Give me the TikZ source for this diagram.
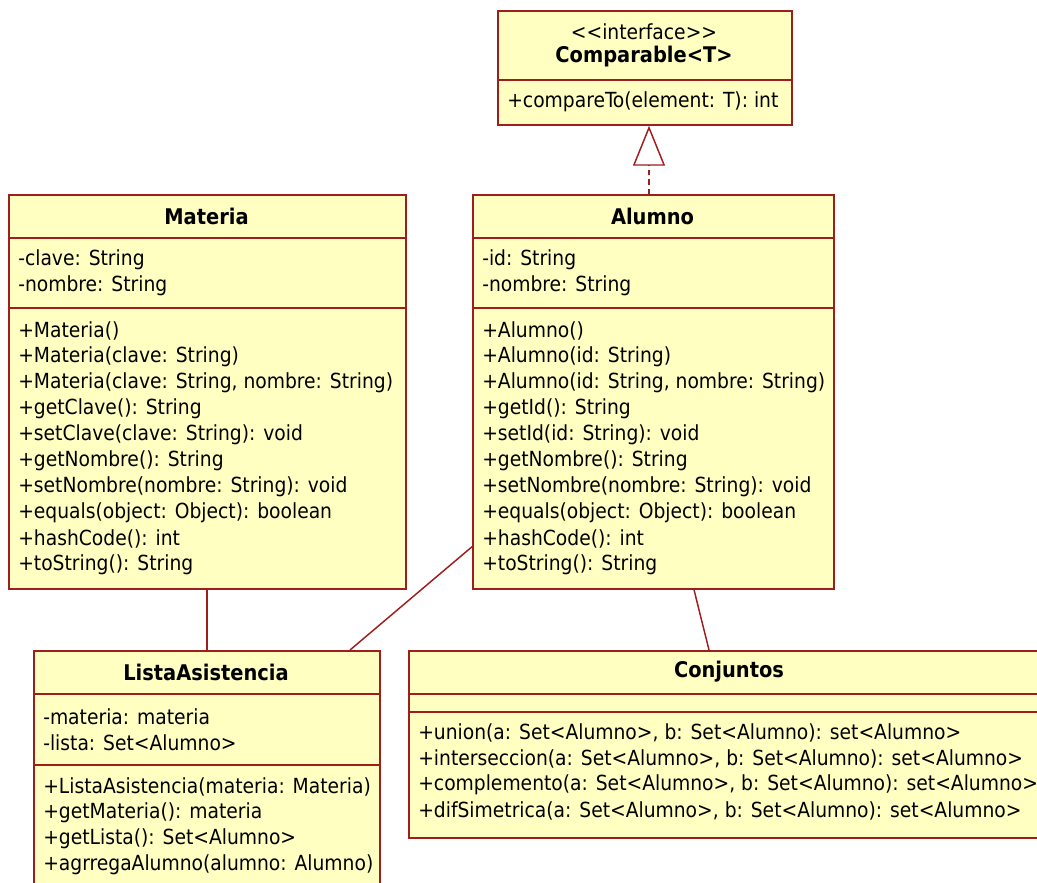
\documentclass[tikz,border=0pt]{standalone}
\usepackage{fontspec}
\setmainfont{DejaVu Sans Condensed}
\usetikzlibrary{arrows.meta,calc}

\definecolor{umlfill}{RGB}{255,255,194}
\definecolor{umlline}{RGB}{158,30,30}

\tikzset{
  classbox/.style={draw=umlline, fill=umlfill, line width=1.3pt, rectangle,
    inner sep=0pt, anchor=north west},
  divider/.style={draw=umlline, line width=1.3pt},
  classname/.style={font=\bfseries\fontsize{16.2}{18}\selectfont, anchor=center, inner sep=0pt},
  stereo/.style={font=\fontsize{15.6}{18}\selectfont, anchor=center, inner sep=0pt},
  member/.style={font=\fontsize{15.6}{18}\selectfont, anchor=west, inner sep=0pt},
  link/.style={draw=umlline, line width=1.1pt},
  realize/.style={draw=umlline, line width=1.1pt, dash pattern=on 4pt off 3pt,
    -{Triangle[open, length=30pt, width=24pt, fill=white, line width=1.1pt]}},
}

\begin{document}
\begin{tikzpicture}[x=0.75pt, y=-0.75pt]
\useasboundingbox (0,0) rectangle (1037,882);
\clip (0,0) rectangle (1037,882);

% ---- Comparable<T> interface
\node[classbox, minimum width=294*0.75pt, minimum height=114*0.75pt] (comp) at (497,10) {};
\draw[divider] ($(comp.north west)+(0,70)$) -- ($(comp.north east)+(0,70)$);
\node[stereo] (compst) at (644,32) {<{}<interface>{}>};
\node[classname] (compname) at (644,57) {Comparable<T>};
\node[member] (compm1) at (507,102) {+compareTo(element: T): int};

% ---- Materia
\node[classbox, minimum width=397*0.75pt, minimum height=394*0.75pt] (mat) at (8,194) {};
\draw[divider] ($(mat.north west)+(0,44)$) -- ($(mat.north east)+(0,44)$);
\draw[divider] ($(mat.north west)+(0,114)$) -- ($(mat.north east)+(0,114)$);
\node[classname] (matname) at (206.5,216) {Materia};
\node[member] (mata1) at (18,260) {-clave: String};
\node[member] (mata2) at (18,286) {-nombre: String};
\node[member] (matm1)  at (18,331) {+Materia()};
\node[member] (matm2)  at (18,357) {+Materia(clave: String)};
\node[member] (matm3)  at (18,383) {+Materia(clave: String, nombre: String)};
\node[member] (matm4)  at (18,409) {+getClave(): String};
\node[member] (matm5)  at (18,435) {+setClave(clave: String): void};
\node[member] (matm6)  at (18,461) {+getNombre(): String};
\node[member] (matm7)  at (18,487) {+setNombre(nombre: String): void};
\node[member] (matm8)  at (18,513) {+equals(object: Object): boolean};
\node[member] (matm9)  at (18,539) {+hashCode(): int};
\node[member] (matm10) at (18,565) {+toString(): String};

% ---- Alumno
\node[classbox, minimum width=361*0.75pt, minimum height=394*0.75pt] (alu) at (472,194) {};
\draw[divider] ($(alu.north west)+(0,44)$) -- ($(alu.north east)+(0,44)$);
\draw[divider] ($(alu.north west)+(0,114)$) -- ($(alu.north east)+(0,114)$);
\node[classname] (aluname) at (652.5,216) {Alumno};
\node[member] (alua1) at (482,260) {-id: String};
\node[member] (alua2) at (482,286) {-nombre: String};
\node[member] (alum1)  at (482,331) {+Alumno()};
\node[member] (alum2)  at (482,357) {+Alumno(id: String)};
\node[member] (alum3)  at (482,383) {+Alumno(id: String, nombre: String)};
\node[member] (alum4)  at (482,409) {+getId(): String};
\node[member] (alum5)  at (482,435) {+setId(id: String): void};
\node[member] (alum6)  at (482,461) {+getNombre(): String};
\node[member] (alum7)  at (482,487) {+setNombre(nombre: String): void};
\node[member] (alum8)  at (482,513) {+equals(object: Object): boolean};
\node[member] (alum9)  at (482,539) {+hashCode(): int};
\node[member] (alum10) at (482,565) {+toString(): String};

% ---- ListaAsistencia
\node[classbox, minimum width=346*0.75pt, minimum height=260*0.75pt] (lista) at (33,650) {};
\draw[divider] ($(lista.north west)+(0,44)$) -- ($(lista.north east)+(0,44)$);
\draw[divider] ($(lista.north west)+(0,115)$) -- ($(lista.north east)+(0,115)$);
\node[classname] (listaname) at (206,672) {ListaAsistencia};
\node[member] (listaa1) at (43,717) {-materia: materia};
\node[member] (listaa2) at (43,743) {-lista: Set<Alumno>};
\node[member] (listam1) at (43,787) {+ListaAsistencia(materia: Materia)};
\node[member] (listam2) at (43,813) {+getMateria(): materia};
\node[member] (listam3) at (43,839) {+getLista(): Set<Alumno>};
\node[member] (listam4) at (43,865) {+agrregaAlumno(alumno: Alumno)};

% ---- Conjuntos
\node[classbox, minimum width=642*0.75pt, minimum height=187*0.75pt] (conj) at (408,650) {};
\draw[divider] ($(conj.north west)+(0,44)$) -- ($(conj.north east)+(0,44)$);
\draw[divider] ($(conj.north west)+(0,62)$) -- ($(conj.north east)+(0,62)$);
\node[classname] (conjname) at (729,672) {Conjuntos};
\node[member] (conjm1) at (418,733) {+union(a: Set<Alumno>, b: Set<Alumno): set<Alumno>};
\node[member] (conjm2) at (418,759) {+interseccion(a: Set<Alumno>, b: Set<Alumno): set<Alumno>};
\node[member] (conjm3) at (418,785) {+complemento(a: Set<Alumno>, b: Set<Alumno): set<Alumno>};
\node[member] (conjm4) at (418,811) {+difSimetrica(a: Set<Alumno>, b: Set<Alumno): set<Alumno>};

% ---- relations
\draw[link] ($(mat.south west)+(199,0)$) -- ($(lista.north west)+(174,0)$);
\draw[link] ($(alu.south west)+(0,-43)$) -- ($(lista.north west)+(317,0)$);
\draw[link] ($(alu.south west)+(222,0)$) -- ($(conj.north west)+(301,0)$);
\draw[realize] ($(alu.north west)+(177,0)$) -- ($(comp.south west)+(152,0)$);
\end{tikzpicture}
\end{document}
